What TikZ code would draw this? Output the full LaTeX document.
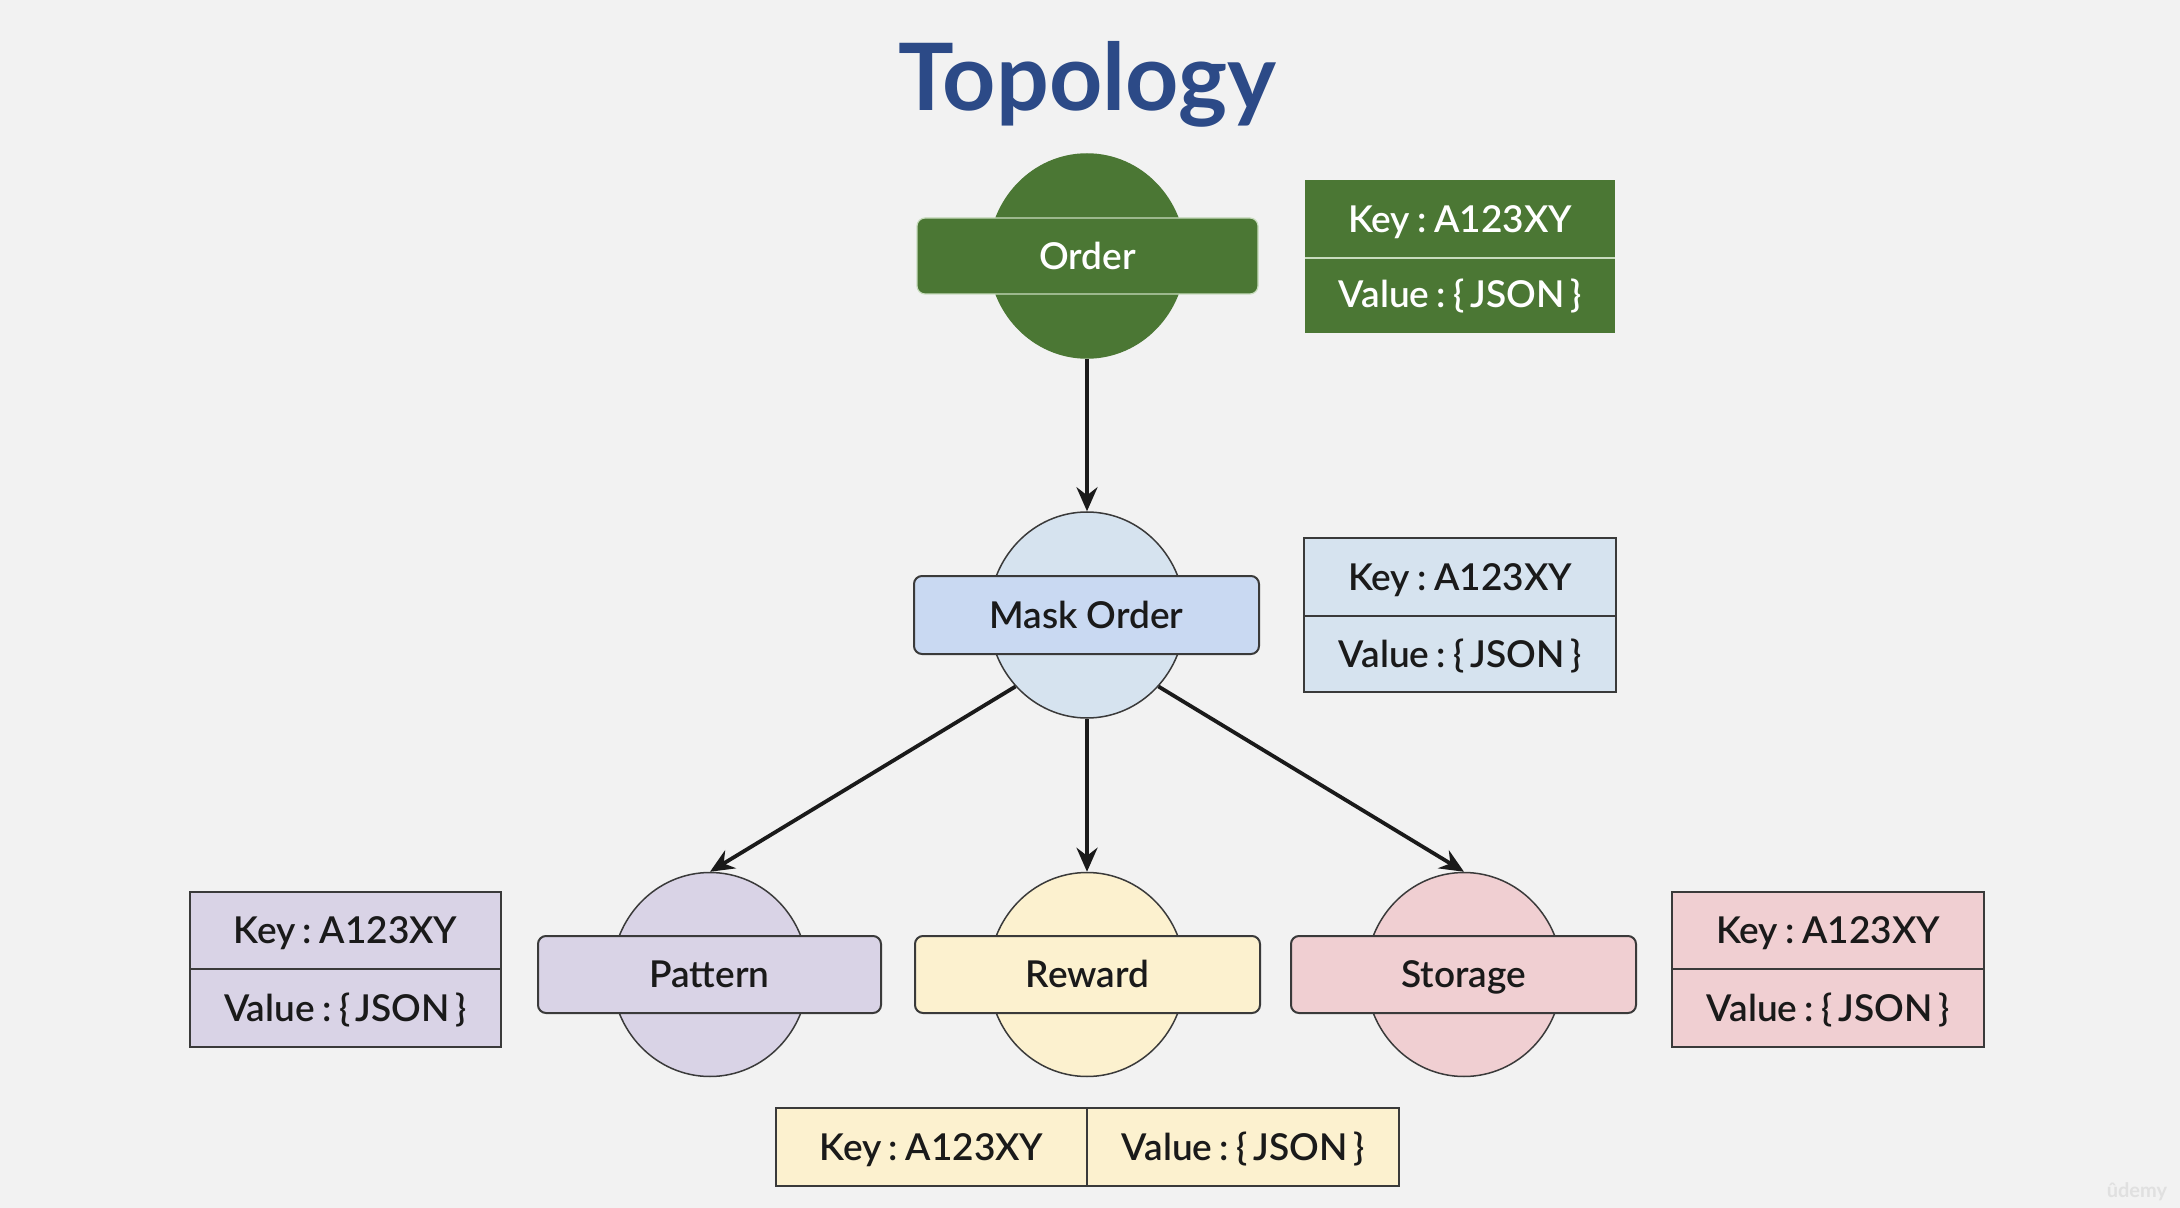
\documentclass[tikz,border=0pt]{standalone}
\usepackage{fontspec}
\setmainfont{Lato}
\newfontfamily\latosb{Lato Semibold}
\usetikzlibrary{shapes.geometric,arrows.meta}
\definecolor{bg}{HTML}{F2F2F2}
\definecolor{titlec}{RGB}{44,74,135}
\definecolor{ink}{HTML}{1A1A1A}
\definecolor{outl}{HTML}{3A3A3A}
\definecolor{grn}{RGB}{75,119,52}
\definecolor{grnlt}{RGB}{200,220,190}
\definecolor{blueC}{HTML}{D6E3EF}
\definecolor{blueR}{HTML}{C9D9F2}
\definecolor{lav}{HTML}{D9D3E6}
\definecolor{cream}{HTML}{FCF1CF}
\definecolor{pink}{HTML}{F0CFD2}
\newcommand{\kv}{Key\hspace{0.2em}:\hspace{0.2em}A123XY}
\newcommand{\vv}{Value\hspace{0.2em}:\hspace{0.2em}\{\hspace{0.15em}JSON\hspace{0.15em}\}}
\begin{document}
\begin{tikzpicture}[x=0.5pt,y=-0.5pt,
  txt/.style={text=ink, font=\latosb\fontsize{18.5pt}{22pt}\selectfont, text height=13.3pt, text depth=0pt},
  circ/.style={ellipse, minimum width=98pt, minimum height=102pt, inner sep=0pt, draw=outl, line width=0.75pt},
  lbl/.style={txt, rectangle, rounded corners=4pt, draw=outl, line width=1pt, inner sep=0pt, minimum height=38.5pt},
  cell/.style={txt, rectangle, draw=outl, line width=1pt, inner sep=0pt},
  arr/.style={-{Stealth[length=12pt,width=10.5pt,inset=4pt]}, line width=1.9pt, draw=ink},
  divider/.style={draw=grnlt, line width=1pt}
]
\fill[bg] (0,0) rectangle (2180,1208);
\useasboundingbox (0,0) rectangle (2180,1208);

% title
\node[anchor=base, text=titlec, inner sep=0pt, font=\fontsize{46.5pt}{56pt}\selectfont\bfseries] (title) at (1087.5,111) {Topology};

% Order
\node[circ, fill=grn, draw=grn] (orderC) at (1087,256) {};
\node[lbl, fill=grn, draw=grnlt, line width=0.6pt, text=white, minimum width=170.5pt, minimum height=38pt] (order) at (1087.5,256) {Order};
\node[cell, fill=grn, draw=grn, text=white, minimum width=154pt, minimum height=38pt] (orderK) at (1460,219) {\kv};
\node[cell, fill=grn, draw=grn, text=white, minimum width=154pt, minimum height=37.5pt] (orderV) at (1460,294.5) {\vv};
\draw[divider] (orderK.south west) -- (orderK.south east);

% Mask Order
\node[circ, fill=blueC, minimum height=103pt] (maskC) at (1087,615) {};
\node[lbl, fill=blueR, minimum width=172.5pt, minimum height=39pt] (mask) at (1086.5,615) {Mask Order};
\node[cell, fill=blueC, minimum width=156pt, minimum height=39pt] (maskK) at (1460,577) {\kv};
\node[cell, fill=blueC, minimum width=156pt, minimum height=38pt] (maskV) at (1460,654) {\vv};

% Pattern
\node[circ, fill=lav] (patternC) at (710,974.5) {};
\node[lbl, fill=lav, minimum width=171.5pt] (pattern) at (709.5,974.5) {Pattern};
\node[cell, fill=lav, minimum width=155.5pt, minimum height=38.5pt] (patternK) at (345.5,930.5) {\kv};
\node[cell, fill=lav, minimum width=155.5pt, minimum height=39pt] (patternV) at (345.5,1008) {\vv};

% Reward
\node[circ, fill=cream] (rewardC) at (1087,974.5) {};
\node[lbl, fill=cream, minimum width=172.5pt] (reward) at (1087.5,974.5) {Reward};
\node[cell, fill=cream, minimum width=155.5pt, minimum height=39pt] (rewardK) at (931.5,1147) {\kv};
\node[cell, fill=cream, minimum width=156pt, minimum height=39pt] (rewardV) at (1243,1147) {\vv};

% Storage
\node[circ, fill=pink] (storageC) at (1464,974.5) {};
\node[lbl, fill=pink, minimum width=172.5pt] (storage) at (1463.5,974.5) {Storage};
\node[cell, fill=pink, minimum width=156pt, minimum height=38.5pt] (storageK) at (1828,930.5) {\kv};
\node[cell, fill=pink, minimum width=156pt, minimum height=39pt] (storageV) at (1828,1008) {\vv};

% connectors
\draw[arr] (orderC.south) -- (maskC.north);
\draw[arr] (maskC.-135) -- (patternC.north);
\draw[arr] (maskC.south) -- (rewardC.north);
\draw[arr] (maskC.-45) -- (storageC.north);

% watermark
\node[text=black!12, font=\fontsize{10pt}{12pt}\selectfont\bfseries, inner sep=0pt] (wm) at (2137,1192) {ûdemy};
\end{tikzpicture}
\end{document}
